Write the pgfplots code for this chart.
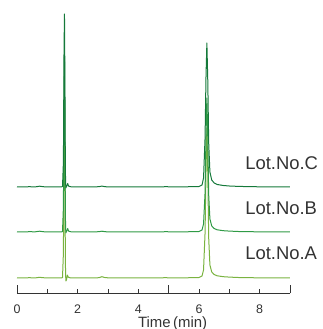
\documentclass[border=0pt]{standalone}
\usepackage{fontspec}
\setmainfont{Liberation Sans}
\usepackage{pgfplots}
\pgfplotsset{compat=1.18}
\definecolor{lotA}{HTML}{7AB340}
\definecolor{lotB}{HTML}{2F9A45}
\definecolor{lotC}{HTML}{15793A}
\definecolor{txt}{HTML}{333333}
\begin{document}
\begin{tikzpicture}
\begin{axis}[
  at={(0,0)}, anchor=origin,
  scale only axis, width=273bp, height=293bp,
  xmin=0, xmax=9, ymin=0, ymax=293,
  axis x line=bottom, axis y line=none,
  axis line style={-, line width=0.8bp, black!80},
  xtick={0,...,9}, xticklabels={0,,2,,4,,6,,8,},
  xtick align=inside,
  major tick length=3.5bp,
  tick style={line width=0.8bp, black!80},
  extra x ticks={0,5,9}, extra x tick labels={},
  extra x tick style={major tick length=7.5bp},
  xticklabel style={font=\fontsize{12.5}{13}\selectfont, text=txt, yshift=-8bp},
  /pgf/number format/assume math mode=true,
  clip=false,
  every axis plot/.append style={line width=1bp, line join=round},
]
\addplot[lotA, no markers] coordinates {
(0,15.2) (0.2,15.0) (0.4,15.3) (0.6,15.1) (0.75,15.7) (0.85,15.3) (1.0,15.1) (1.2,15.2) (1.4,15.0) (1.5,15.3)
(1.53,40) (1.55,150) (1.565,190) (1.58,120) (1.595,30) (1.61,12) (1.63,13) (1.66,18) (1.69,15.8) (1.75,15.2)
(1.9,15.0) (2.1,15.2) (2.3,15.1) (2.5,15.0) (2.7,15.3) (2.8,16.3) (2.9,15.4) (3.1,15.0) (3.4,15.2) (3.7,15.1)
(4.0,15.0) (4.3,15.2) (4.6,15.1) (4.9,15.3) (5.2,15.0) (5.5,15.2) (5.8,15.3) (6.0,15.5) (6.1,17) (6.15,23)
(6.2,60) (6.23,120) (6.26,165) (6.29,120) (6.32,55) (6.36,28) (6.42,21) (6.5,18.5) (6.6,17.2) (6.8,16.3)
(7.0,15.9) (7.3,15.5) (7.6,15.3) (8.0,15.2) (8.3,15.1) (8.6,15.2) (9.0,15.0)
};
\addplot[lotB, no markers] coordinates {
(0,61.1) (0.2,61.0) (0.4,61.3) (0.6,61.2) (0.75,61.8) (0.85,61.3) (1.0,61.1) (1.2,61.2) (1.4,61.0) (1.5,61.3)
(1.53,86) (1.55,196) (1.565,236) (1.58,166) (1.595,76) (1.61,60) (1.64,62) (1.67,64.5) (1.70,62) (1.75,61.3)
(1.9,61.0) (2.1,61.2) (2.3,61.0) (2.5,61.1) (2.7,61.3) (2.8,61.8) (2.9,61.3) (3.1,61.0) (3.4,61.2) (3.7,61.0)
(4.0,61.1) (4.3,61.2) (4.6,61.0) (4.9,61.3) (5.2,61.1) (5.5,61.2) (5.8,61.3) (6.0,61.5) (6.1,63) (6.15,69)
(6.2,100) (6.23,155) (6.26,195) (6.29,155) (6.32,98) (6.36,74) (6.42,67) (6.5,64.5) (6.6,63.2) (6.8,62.3)
(7.0,61.9) (7.3,61.5) (7.6,61.3) (8.0,61.2) (8.3,61.1) (8.6,61.2) (9.0,61.0)
};
\addplot[lotC, no markers] coordinates {
(0,106.2) (0.2,106.0) (0.4,106.3) (0.6,106.1) (0.75,106.8) (0.85,106.3) (1.0,106.1) (1.2,106.2) (1.4,106.0) (1.5,106.3)
(1.53,131) (1.55,241) (1.565,279) (1.58,211) (1.595,121) (1.61,105) (1.64,107) (1.67,109.5) (1.70,107) (1.75,106.3)
(1.9,106.0) (2.1,106.2) (2.3,106.0) (2.5,106.1) (2.7,106.3) (2.8,106.9) (2.9,106.3) (3.1,106.0) (3.4,106.2) (3.7,106.0)
(4.0,106.1) (4.3,106.2) (4.6,106.0) (4.9,106.3) (5.2,106.1) (5.5,106.2) (5.8,106.3) (6.0,106.5) (6.1,108) (6.15,115)
(6.2,155) (6.23,215) (6.26,250) (6.29,212) (6.32,150) (6.36,121) (6.42,113) (6.5,110) (6.6,108.5) (6.8,107.5)
(7.0,107.0) (7.3,106.6) (7.6,106.4) (8.0,106.2) (8.3,106.1) (8.6,106.2) (9.0,106.0)
};
\node[anchor=west, inner sep=0pt, text=txt, font=\fontsize{18.5}{20}\selectfont] at (axis cs:7.52,130) {Lot.No.C};
\node[anchor=west, inner sep=0pt, text=txt, font=\fontsize{18.5}{20}\selectfont] at (axis cs:7.52,85) {Lot.No.B};
\node[anchor=west, inner sep=0pt, text=txt, font=\fontsize{18.5}{20}\selectfont] at (axis cs:7.52,40) {Lot.No.A};
\node[anchor=base, inner sep=0pt, text=txt, font=\fontsize{15}{16}\selectfont] at (axis cs:5.13,-34) {Time\,(min)};
\end{axis}
\pgfresetboundingbox
\path[use as bounding box] (-17bp,-36bp) rectangle (306bp,293bp);
\end{tikzpicture}
\end{document}
